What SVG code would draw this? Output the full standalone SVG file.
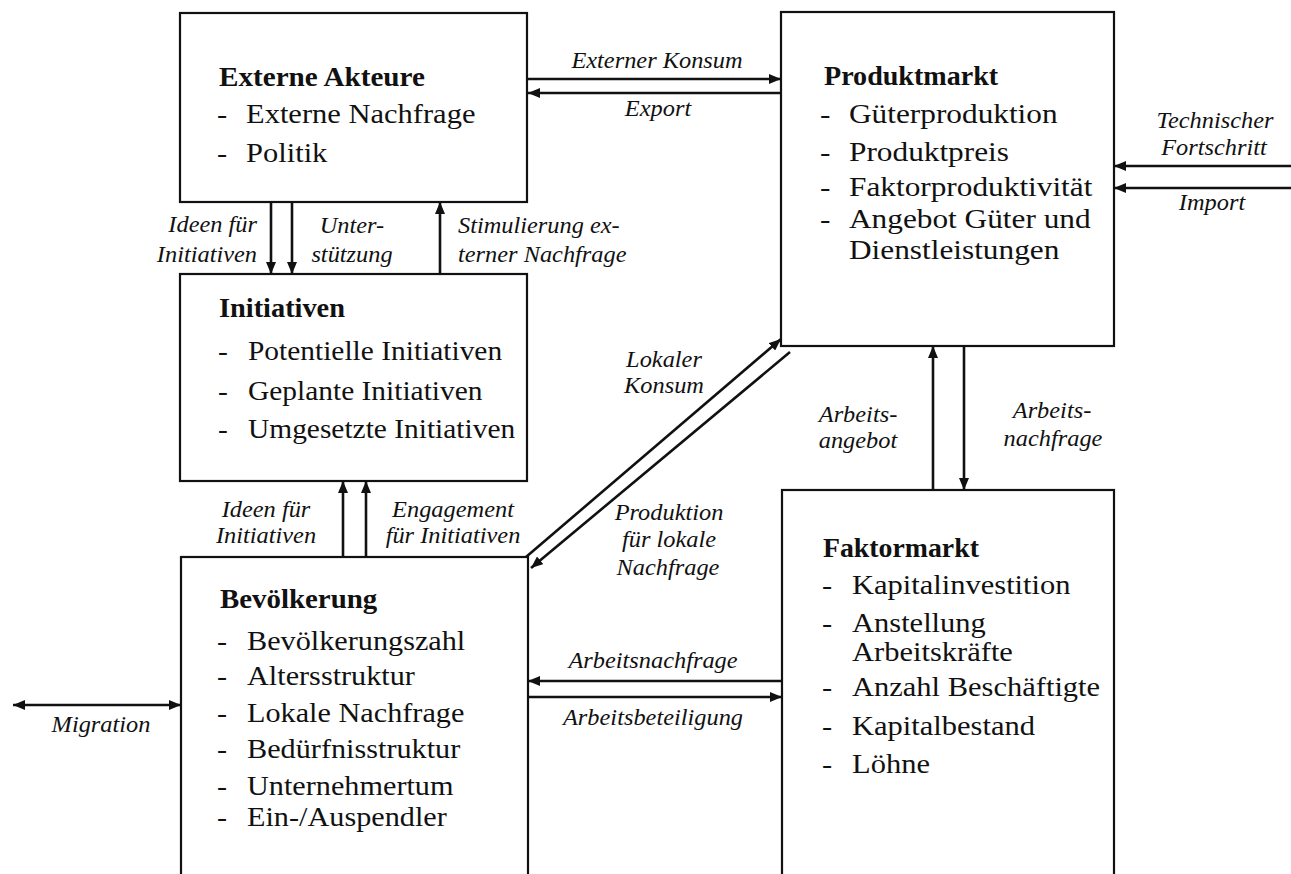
<svg xmlns="http://www.w3.org/2000/svg" width="1291" height="874" viewBox="0 0 1291 874">
<style>
.box{fill:#fff;stroke:#111;stroke-width:2.2}
.con line{stroke:#111;stroke-width:2.6;fill:none}
text{fill:#111;font-family:"Liberation Serif","Times New Roman",serif}
.t{font-weight:bold;font-size:27px}
.n{font-size:27px}
.i{font-style:italic;font-size:23px;text-anchor:middle}
.e{text-anchor:end}
.s{text-anchor:start}
</style>
<defs>
<marker id="ah" markerUnits="userSpaceOnUse" markerWidth="12" markerHeight="10" viewBox="0 0 12 10" refX="12" refY="5" orient="auto-start-reverse">
<path d="M0,0 L12,5 L0,10 z" fill="#111"/>
</marker>
</defs>
<rect width="1291" height="874" fill="#fff"/>

<g id="externe-akteure">
<rect class="box" x="180" y="13" width="347" height="189"/>
<text class="t" transform="translate(219 86) scale(1.08 1)">Externe Akteure</text>
<text class="n" transform="translate(217 123) scale(1.13 1)">-</text>
<text class="n" transform="translate(246 123) scale(1.13 1)">Externe Nachfrage</text>
<text class="n" transform="translate(217 162) scale(1.13 1)">-</text>
<text class="n" transform="translate(246 162) scale(1.13 1)">Politik</text>
</g>

<g id="produktmarkt">
<rect class="box" x="781" y="12" width="333" height="334"/>
<text class="t" transform="translate(824 85) scale(1.04 1)">Produktmarkt</text>
<text class="n" transform="translate(820 123) scale(1.16 1)">-</text>
<text class="n" transform="translate(849 123) scale(1.16 1)">Güterproduktion</text>
<text class="n" transform="translate(820 161) scale(1.16 1)">-</text>
<text class="n" transform="translate(849 161) scale(1.16 1)">Produktpreis</text>
<text class="n" transform="translate(820 196) scale(1.16 1)">-</text>
<text class="n" transform="translate(849 196) scale(1.16 1)">Faktorproduktivität</text>
<text class="n" transform="translate(820 228) scale(1.16 1)">-</text>
<text class="n" transform="translate(849 228) scale(1.16 1)">Angebot Güter und</text>
<text class="n" transform="translate(849 259) scale(1.16 1)">Dienstleistungen</text>
</g>

<g id="initiativen">
<rect class="box" x="180" y="274" width="347" height="207"/>
<text class="t" transform="translate(219 317) scale(1.05 1)">Initiativen</text>
<text class="n" transform="translate(218 360) scale(1.09 1)">-</text>
<text class="n" transform="translate(248 360) scale(1.09 1)">Potentielle Initiativen</text>
<text class="n" transform="translate(218 400) scale(1.09 1)">-</text>
<text class="n" transform="translate(248 400) scale(1.09 1)">Geplante Initiativen</text>
<text class="n" transform="translate(218 438) scale(1.09 1)">-</text>
<text class="n" transform="translate(248 438) scale(1.09 1)">Umgesetzte Initiativen</text>
</g>

<g id="bevoelkerung">
<rect class="box" x="181" y="557" width="347" height="330"/>
<text class="t" transform="translate(220 608) scale(1.07 1)">Bevölkerung</text>
<text class="n" transform="translate(217 650) scale(1.12 1)">-</text>
<text class="n" transform="translate(247 650) scale(1.12 1)">Bevölkerungszahl</text>
<text class="n" transform="translate(217 685) scale(1.12 1)">-</text>
<text class="n" transform="translate(247 685) scale(1.12 1)">Altersstruktur</text>
<text class="n" transform="translate(217 722) scale(1.12 1)">-</text>
<text class="n" transform="translate(247 722) scale(1.12 1)">Lokale Nachfrage</text>
<text class="n" transform="translate(217 758) scale(1.12 1)">-</text>
<text class="n" transform="translate(247 758) scale(1.12 1)">Bedürfnisstruktur</text>
<text class="n" transform="translate(217 795) scale(1.12 1)">-</text>
<text class="n" transform="translate(247 795) scale(1.12 1)">Unternehmertum</text>
<text class="n" transform="translate(217 826) scale(1.12 1)">-</text>
<text class="n" transform="translate(247 826) scale(1.12 1)">Ein-/Auspendler</text>
</g>

<g id="faktormarkt">
<rect class="box" x="782" y="490" width="332" height="400"/>
<text class="t" transform="translate(823 557) scale(1.03 1)">Faktormarkt</text>
<text class="n" transform="translate(822 594) scale(1.13 1)">-</text>
<text class="n" transform="translate(852 594) scale(1.13 1)">Kapitalinvestition</text>
<text class="n" transform="translate(822 632) scale(1.13 1)">-</text>
<text class="n" transform="translate(852 632) scale(1.13 1)">Anstellung</text>
<text class="n" transform="translate(852 661) scale(1.13 1)">Arbeitskräfte</text>
<text class="n" transform="translate(822 696) scale(1.13 1)">-</text>
<text class="n" transform="translate(852 696) scale(1.13 1)">Anzahl Beschäftigte</text>
<text class="n" transform="translate(822 735) scale(1.13 1)">-</text>
<text class="n" transform="translate(852 735) scale(1.13 1)">Kapitalbestand</text>
<text class="n" transform="translate(822 773) scale(1.13 1)">-</text>
<text class="n" transform="translate(852 773) scale(1.13 1)">Löhne</text>
</g>

<g id="connectors" class="con">
<line x1="528" y1="79" x2="781" y2="79" marker-end="url(#ah)"/>
<line x1="781" y1="93" x2="528" y2="93" marker-end="url(#ah)"/>
<line x1="271" y1="202" x2="271" y2="274" marker-end="url(#ah)"/>
<line x1="292" y1="202" x2="292" y2="274" marker-end="url(#ah)"/>
<line x1="440" y1="274" x2="440" y2="202" marker-end="url(#ah)"/>
<line x1="343" y1="557" x2="343" y2="481" marker-end="url(#ah)"/>
<line x1="366" y1="557" x2="366" y2="481" marker-end="url(#ah)"/>
<line x1="526" y1="557" x2="781" y2="339" marker-end="url(#ah)"/>
<line x1="790" y1="352" x2="531" y2="568" marker-end="url(#ah)"/>
<line x1="933" y1="490" x2="933" y2="346" marker-end="url(#ah)"/>
<line x1="964" y1="346" x2="964" y2="490" marker-end="url(#ah)"/>
<line x1="782" y1="681" x2="528" y2="681" marker-end="url(#ah)"/>
<line x1="528" y1="697" x2="782" y2="697" marker-end="url(#ah)"/>
<line x1="13" y1="705" x2="181" y2="705" marker-start="url(#ah)" marker-end="url(#ah)"/>
<line x1="1291" y1="166" x2="1114" y2="166" marker-end="url(#ah)"/>
<line x1="1291" y1="188" x2="1114" y2="188" marker-end="url(#ah)"/>

<text class="i" transform="translate(657 68) scale(1.06 1)">Externer Konsum</text>
<text class="i" transform="translate(658 116) scale(1.06 1)">Export</text>
<text class="i e" transform="translate(257 232) scale(1.06 1)">Ideen für</text>
<text class="i e" transform="translate(257 262) scale(1.06 1)">Initiativen</text>
<text class="i" transform="translate(352 233) scale(1.06 1)">Unter-</text>
<text class="i" transform="translate(352 262) scale(1.06 1)">stützung</text>
<text class="i s" transform="translate(458 233) scale(1.06 1)">Stimulierung ex-</text>
<text class="i s" transform="translate(458 262) scale(1.06 1)">terner Nachfrage</text>
<text class="i" transform="translate(664 367) scale(1.06 1)">Lokaler</text>
<text class="i" transform="translate(664 393) scale(1.06 1)">Konsum</text>
<text class="i" transform="translate(669 520) scale(1.06 1)">Produktion</text>
<text class="i" transform="translate(669 547) scale(1.06 1)">für lokale</text>
<text class="i" transform="translate(668 575) scale(1.06 1)">Nachfrage</text>
<text class="i" transform="translate(266 517) scale(1.06 1)">Ideen für</text>
<text class="i" transform="translate(266 543) scale(1.06 1)">Initiativen</text>
<text class="i" transform="translate(453 517) scale(1.06 1)">Engagement</text>
<text class="i" transform="translate(453 543) scale(1.06 1)">für Initiativen</text>
<text class="i" transform="translate(858 422) scale(1.06 1)">Arbeits-</text>
<text class="i" transform="translate(858 448) scale(1.06 1)">angebot</text>
<text class="i" transform="translate(1052 418) scale(1.06 1)">Arbeits-</text>
<text class="i" transform="translate(1053 446) scale(1.06 1)">nachfrage</text>
<text class="i" transform="translate(653 668) scale(1.06 1)">Arbeitsnachfrage</text>
<text class="i" transform="translate(653 725) scale(1.06 1)">Arbeitsbeteiligung</text>
<text class="i" transform="translate(101 732) scale(1.06 1)">Migration</text>
<text class="i" transform="translate(1215 128) scale(1.06 1)">Technischer</text>
<text class="i" transform="translate(1214 155) scale(1.06 1)">Fortschritt</text>
<text class="i" transform="translate(1212 210) scale(1.06 1)">Import</text>
</g>
</svg>
